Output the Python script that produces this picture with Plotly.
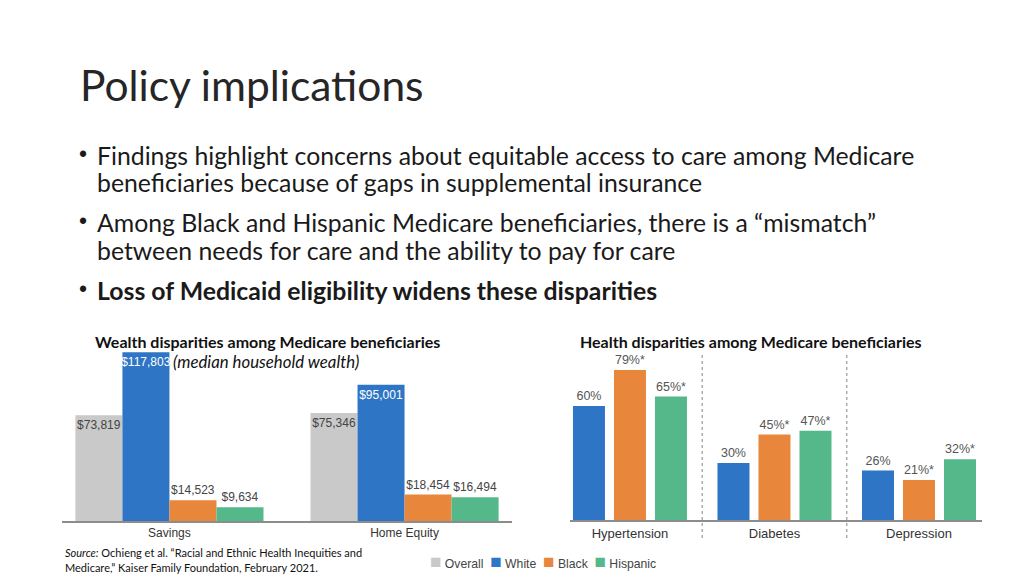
import plotly.graph_objects as go

# ---------------- data ----------------
wealth_categories = ["Savings", "Home Equity"]
wealth_overall = [73819, 75346]
wealth_white = [117803, 95001]
wealth_black = [14523, 18454]
wealth_hispanic = [9634, 16494]

health_categories = ["Hypertension", "Diabetes", "Depression"]
health_white = [60, 30, 26]
health_black = [79, 45, 21]
health_hispanic = [65, 47, 32]
health_white_flag = ["", "", ""]
health_black_flag = ["*", "*", "*"]
health_hispanic_flag = ["*", "*", "*"]

legend_labels = ["Overall", "White", "Black", "Hispanic"]

bullets = [
    ["Findings highlight concerns about equitable access to care among Medicare",
     "beneficiaries because of gaps in supplemental insurance"],
    ["Among Black and Hispanic Medicare beneficiaries, there is a \u201cmismatch\u201d",
     "between needs for care and the ability to pay for care"],
    ["<b>Loss of Medicaid eligibility widens these disparities</b>"],
]

# ---------------- style ----------------
C_OVERALL = "#c9c9c9"
C_WHITE = "#2f75c6"
C_BLACK = "#e8873b"
C_HISP = "#55b88a"
legend_colors = [C_OVERALL, C_WHITE, C_BLACK, C_HISP]
LBL = "#444444"
ARIAL = "Arial, Liberation Sans, sans-serif"
SLIDE = "Lato, Calibri, sans-serif"

W, H = 1024, 576
def px(x):
    return x / W
def py(y):
    return 1 - y / H

fig = go.Figure()

# ----- wealth chart (left) -----
wealth_series = [
    ("Overall", wealth_overall, C_OVERALL, "inside", LBL, -0.4),
    ("White", wealth_white, C_WHITE, "inside", "#ffffff", -0.2),
    ("Black", wealth_black, C_BLACK, "outside", LBL, 0.0),
    ("Hispanic", wealth_hispanic, C_HISP, "outside", LBL, 0.2),
]
for name, vals, col, pos, tcol, off in wealth_series:
    fig.add_trace(go.Bar(
        x=wealth_categories, y=vals, name=name, marker_color=col,
        marker_line_width=0, width=0.2, offset=off,
        text=[f"${v:,}" for v in vals], textposition=pos, textangle=0,
        constraintext="none", cliponaxis=False,
        insidetextfont=dict(family=ARIAL, size=12, color=tcol),
        outsidetextfont=dict(family=ARIAL, size=12, color=LBL),
        xaxis="x", yaxis="y", hoverinfo="skip", showlegend=False,
    ))

# ----- health chart (right) -----
slot = 41 / 144.5
bw = 32 / 144.5
health_series = [
    ("White", health_white, health_white_flag, C_WHITE),
    ("Black", health_black, health_black_flag, C_BLACK),
    ("Hispanic", health_hispanic, health_hispanic_flag, C_HISP),
]
for i, (name, vals, flags, col) in enumerate(health_series):
    off = -1.5 * slot + (slot - bw) / 2 + i * slot
    fig.add_trace(go.Bar(
        x=health_categories, y=vals, name=name, marker_color=col,
        marker_line_width=0, width=bw, offset=off,
        text=[f"{v}%{f}" for v, f in zip(vals, flags)], textposition="outside",
        textangle=0, constraintext="none", cliponaxis=False,
        outsidetextfont=dict(family=ARIAL, size=12.5, color="#555555"),
        xaxis="x2", yaxis="y2", showlegend=False, hoverinfo="skip",
    ))

# separators
for xv in [0.5, 1.5]:
    fig.add_shape(type="line", xref="x2", yref="paper", x0=xv, x1=xv,
                  y0=py(538), y1=py(355),
                  line=dict(color="#9a9a9a", width=1.2, dash="dot"))

axis_common = dict(showgrid=False, zeroline=False, showline=True,
                   linecolor="#8c8c8c", linewidth=2, ticks="",
                   fixedrange=True)
fig.update_layout(
    width=W, height=H, margin=dict(l=0, r=0, t=0, b=0),
    paper_bgcolor="white", plot_bgcolor="white",
    barmode="overlay", showlegend=False,
    xaxis=dict(domain=[px(62), px(512)], range=[-0.457, 1.457],
               tickfont=dict(family=ARIAL, size=12, color="#333333"),
               anchor="y", **axis_common),
    yaxis=dict(domain=[py(521), py(349)], range=[0, 120000], visible=False,
               anchor="x"),
    xaxis2=dict(domain=[px(570), px(982)], range=[-0.415, 2.436],
                tickfont=dict(family=ARIAL, size=13, color="#333333"),
                anchor="y2", **axis_common),
    yaxis2=dict(domain=[py(520), py(349)], range=[0, 90], visible=False,
                anchor="x2"),
)

# ----- slide text -----
ann = []
ann.append(dict(text="Policy implications", x=px(78), y=py(84), xanchor="left",
                yanchor="middle", font=dict(family=SLIDE, size=42.5, color="#262626")))
line_y = [[155, 183], [222, 250], [290]]
for lines, ys in zip(bullets, line_y):
    ann.append(dict(text="\u2022", x=px(77), y=py(ys[0] - 1), xanchor="left",
                    yanchor="middle", font=dict(family=ARIAL, size=23, color="#1a1a1a")))
    for t, yv in zip(lines, ys):
        ann.append(dict(text=t, x=px(95), y=py(yv), xanchor="left", yanchor="middle",
                        font=dict(family=SLIDE, size=24.8, color="#1a1a1a")))

ann.append(dict(text="<b>Wealth disparities among Medicare beneficiaries</b>",
                x=px(93), y=py(341), xanchor="left", yanchor="middle",
                font=dict(family=SLIDE, size=16, color="#111111")))
ann.append(dict(text="<i>(median household wealth)</i>",
                x=px(171), y=py(361), xanchor="left", yanchor="middle",
                font=dict(family=SLIDE, size=16.8, color="#111111")))
ann.append(dict(text="<b>Health disparities among Medicare beneficiaries</b>",
                x=px(578), y=py(341), xanchor="left", yanchor="middle",
                font=dict(family=SLIDE, size=16, color="#111111")))
ann.append(dict(text="<i>Source:</i> Ochieng et al. \u201cRacial and Ethnic Health Inequities and",
                x=px(63), y=py(552), xanchor="left", yanchor="middle",
                font=dict(family=SLIDE, size=11, color="#111111")))
ann.append(dict(text="Medicare,\u201d Kaiser Family Foundation, February 2021.",
                x=px(63), y=py(567), xanchor="left", yanchor="middle",
                font=dict(family=SLIDE, size=11, color="#111111")))

# legend (shared by both charts)
legend_parts = []
for lab, col in zip(legend_labels, legend_colors):
    legend_parts.append(f'<span style="color:{col};font-size:19px">\u25a0</span>&nbsp;{lab}')
ann.append(dict(text="&nbsp;&nbsp;".join(legend_parts), x=px(428), y=py(561),
                xanchor="left", yanchor="middle",
                font=dict(family=ARIAL, size=12.2, color=LBL)))

for a in ann:
    a.update(xref="paper", yref="paper", showarrow=False)
fig.update_layout(annotations=ann)

fig.write_html(
    "out.html",
    config={"displayModeBar": False},
    post_script="document.body.style.margin='0';document.body.style.overflow='hidden';",
)
